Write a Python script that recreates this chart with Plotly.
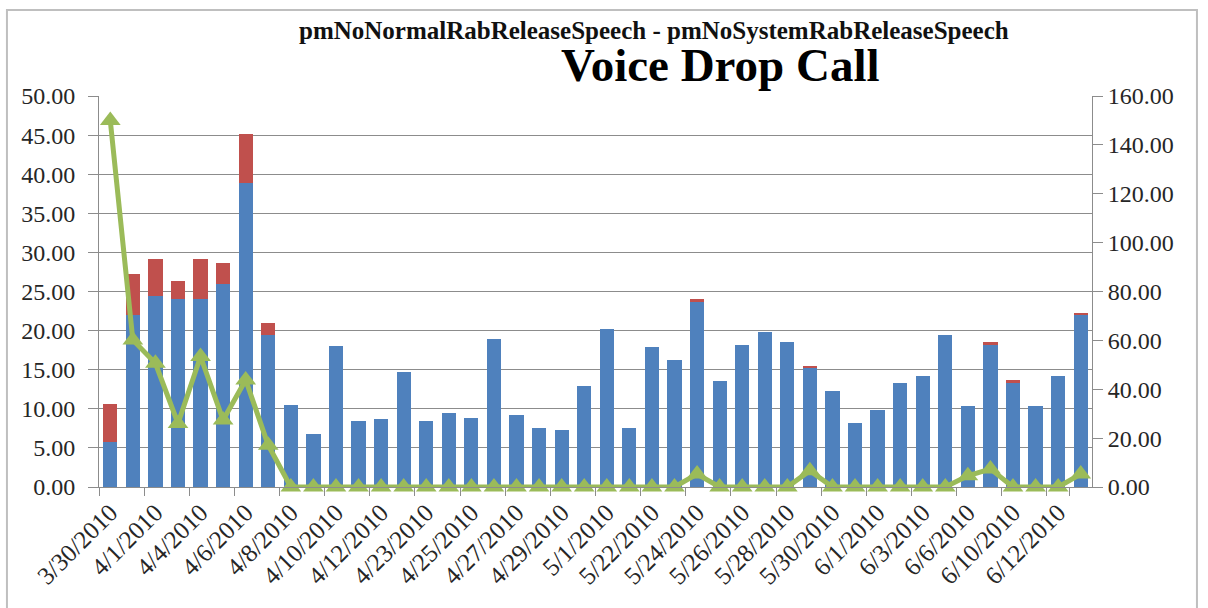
import plotly.graph_objects as go

dates = ["3/30/2010", "3/31/2010", "4/1/2010", "4/3/2010", "4/4/2010", "4/5/2010", "4/6/2010",
         "4/7/2010", "4/8/2010", "4/9/2010", "4/10/2010", "4/11/2010", "4/12/2010", "4/22/2010",
         "4/23/2010", "4/24/2010", "4/25/2010", "4/26/2010", "4/27/2010", "4/28/2010", "4/29/2010",
         "4/30/2010", "5/1/2010", "5/21/2010", "5/22/2010", "5/23/2010", "5/24/2010", "5/25/2010",
         "5/26/2010", "5/27/2010", "5/28/2010", "5/29/2010", "5/30/2010", "5/31/2010", "6/1/2010",
         "6/2/2010", "6/3/2010", "6/5/2010", "6/6/2010", "6/9/2010", "6/10/2010", "6/11/2010",
         "6/12/2010", "6/13/2010"]

normal_release = [5.8, 22.0, 24.4, 24.0, 24.0, 25.9, 38.9, 19.5, 10.5, 6.8, 18.0, 8.4, 8.7, 14.7,
                  8.5, 9.4, 8.8, 18.9, 9.2, 7.6, 7.3, 12.9, 20.2, 7.6, 17.9, 16.3, 23.7, 13.6,
                  18.2, 19.8, 18.6, 15.2, 12.3, 8.2, 9.8, 13.3, 14.2, 19.5, 10.4, 18.2, 13.3, 10.4,
                  14.2, 22.1]

system_release = [4.8, 5.2, 4.7, 2.4, 5.1, 2.7, 6.2, 1.5, 0, 0, 0, 0, 0, 0,
                  0, 0, 0, 0, 0, 0, 0, 0, 0, 0, 0, 0, 0.3, 0,
                  0, 0, 0, 0.3, 0, 0, 0, 0, 0, 0, 0, 0.4, 0.4, 0,
                  0, 0.2]

drop_ratio = [150, 60.2, 50.6, 26.0, 53.4, 27.4, 43.8, 17.1, 0, 0, 0, 0, 0, 0,
              0, 0, 0, 0, 0, 0, 0, 0, 0, 0, 0, 0, 5.3, 0,
              0, 0, 0, 6.7, 0, 0, 0, 0, 0, 0, 4.6, 7.4, 0, 0,
              0, 5.3]

left_ticks = [0, 5, 10, 15, 20, 25, 30, 35, 40, 45, 50]
right_ticks = [0, 20, 40, 60, 80, 100, 120, 140, 160]

SERIF = '"Liberation Serif", "Times New Roman", serif'
GRID = "#8C8C8C"
TICKCOL = "#262626"

fig = go.Figure()
fig.add_bar(x=dates, y=normal_release, name="pmNoNormalRabReleaseSpeech",
            marker=dict(color="#4F81BD", line=dict(width=0)))
fig.add_bar(x=dates, y=system_release, name="pmNoSystemRabReleaseSpeech",
            marker=dict(color="#C0504D", line=dict(width=0)))
fig.add_scatter(x=dates, y=drop_ratio, yaxis="y2", mode="lines+markers", name="Voice Drop Call",
                line=dict(color="#9BBB59", width=5),
                marker=dict(symbol="triangle-up", size=18, color="#9BBB59"),
                cliponaxis=False)

fig.update_layout(
    width=1208, height=608,
    margin=dict(l=99, r=116, t=96, b=121, pad=0),
    barmode="stack", bargap=0.37,
    showlegend=False,
    plot_bgcolor="white", paper_bgcolor="white",
    hovermode=False,
    xaxis=dict(type="category", range=[-0.5, len(dates) - 0.5],
               tickmode="array", tickvals=dates[::2], ticktext=dates[::2],
               tickson="boundaries", ticks="outside", ticklen=8, tickcolor=GRID,
               showline=True, linecolor=GRID, linewidth=1, showgrid=False,
               tickangle=-45, tickfont=dict(family=SERIF, size=25, color=TICKCOL)),
    yaxis=dict(range=[0, 50], tickmode="array", tickvals=left_ticks,
               tickformat=".2f", showgrid=True, gridcolor=GRID, gridwidth=1,
               zeroline=False, showline=True, linecolor=GRID, ticks="outside",
               ticklen=10, tickcolor=GRID, ticklabelstandoff=8,
               tickfont=dict(family=SERIF, size=24, color=TICKCOL)),
    yaxis2=dict(range=[0, 160], overlaying="y", side="right", anchor="x",
                tickmode="array", tickvals=right_ticks, tickformat=".2f",
                showgrid=False, zeroline=False, showline=True, linecolor=GRID,
                ticks="outside", ticklen=10, tickcolor=GRID,
                tickfont=dict(family=SERIF, size=24, color=TICKCOL)),
    annotations=[
        dict(text="<b>pmNoNormalRabReleaseSpeech - pmNoSystemRabReleaseSpeech</b>",
             xref="paper", yref="paper", x=0.559, y=1.168, xanchor="center", yanchor="middle",
             showarrow=False, font=dict(family=SERIF, size=25, color="#111111")),
        dict(text="<b>Voice Drop Call</b>",
             xref="paper", yref="paper", x=0.626, y=1.080, xanchor="center", yanchor="middle",
             showarrow=False, font=dict(family=SERIF, size=47, color="#000000")),
    ],
    shapes=[dict(type="rect", xref="paper", yref="paper",
                 x0=-0.0927, x1=1.1057, y0=-0.35, y1=1.22,
                 line=dict(color="#BFBFBF", width=2), fillcolor="rgba(0,0,0,0)", layer="below")],
)

fig.write_html("out.html")
